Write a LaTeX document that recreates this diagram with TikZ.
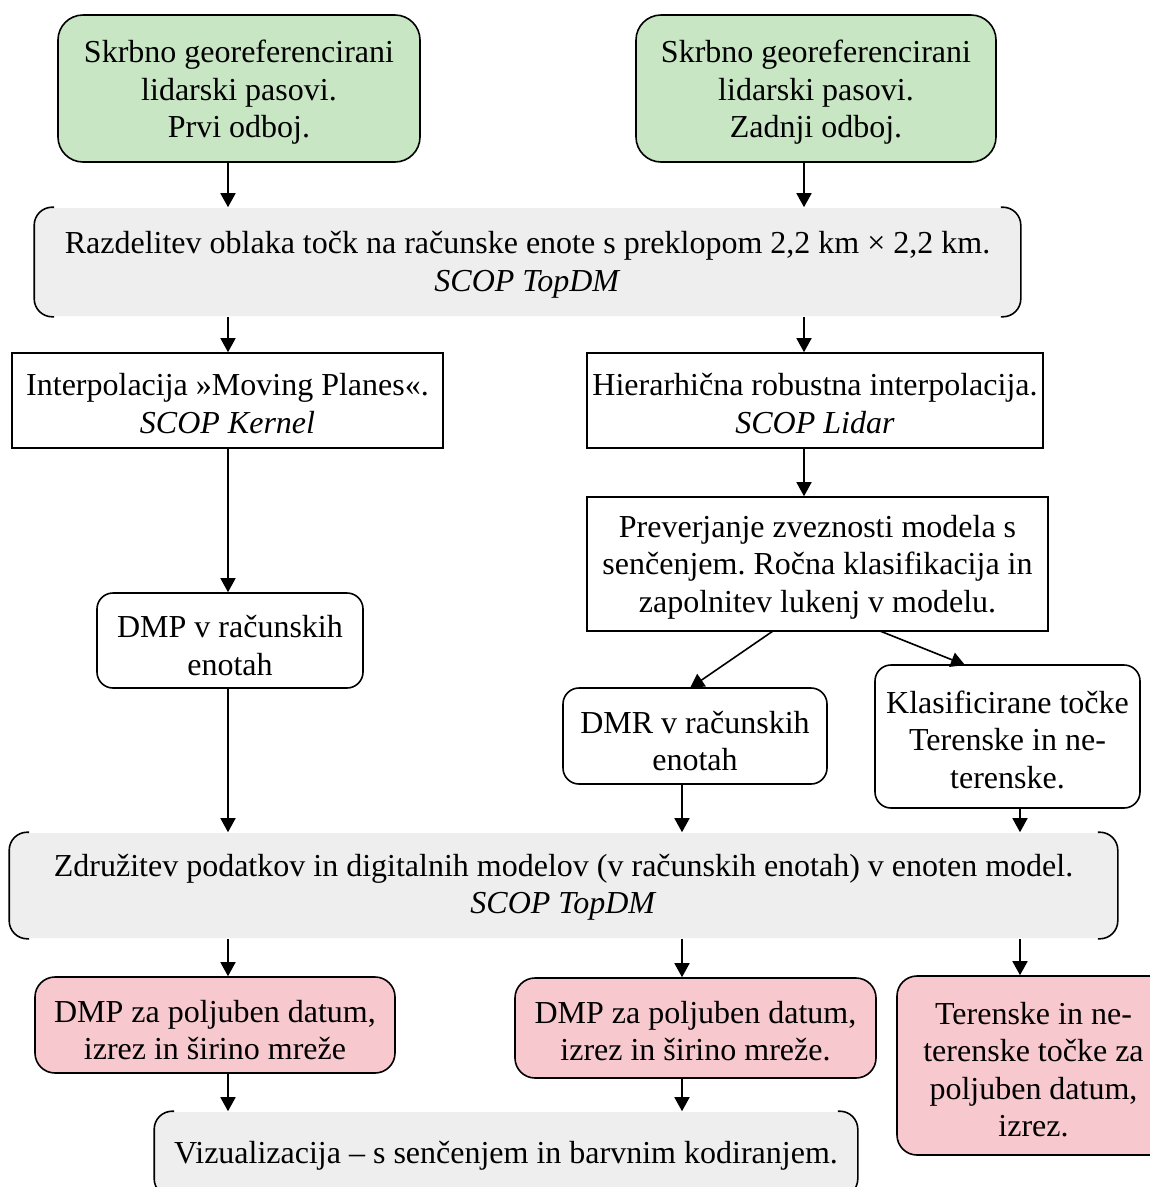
\documentclass[tikz,border=0pt]{standalone}
\usepackage{fontspec}
\setmainfont{Liberation Serif}
\usetikzlibrary{arrows.meta}
\definecolor{greenfill}{RGB}{200,230,196}
\definecolor{grayfill}{RGB}{238,238,238}
\definecolor{redfill}{RGB}{247,200,205}
\frenchspacing
\begin{document}
\begin{tikzpicture}[x=1pt,y=-1pt,
  every node/.style={font=\fontsize{32}{37.5}\selectfont, align=center, inner sep=0pt, line width=1.6pt},
  greenbox/.style={draw, fill=greenfill, rounded corners=25pt},
  plainbox/.style={draw, fill=white},
  roundbox/.style={draw, fill=white, rounded corners=16pt},
  redbox/.style={draw, fill=redfill, rounded corners=20pt},
  graybox/.style={fill=grayfill, rounded corners=18pt},
  bracket/.style={draw, line width=1.6pt, rounded corners=18pt},
  arr/.style={draw, line width=1.6pt, -{Triangle[length=14pt,width=15pt]}},
  txt/.style={}
]
\useasboundingbox (0,0) rectangle (1150,1187);
\clip (0,0) rectangle (1150,1187);
\fill[white] (0,0) rectangle (1150,1187);

% column coordinates
\coordinate (cA) at (228,0);
\coordinate (cB) at (804,0);
\coordinate (cC) at (682,0);
\coordinate (cD) at (1020,0);

% boxes
\node[greenbox, minimum width=362, minimum height=147] (gl) at (239,88.5) {};
\node[greenbox, minimum width=360, minimum height=147] (gr) at (816,88.5) {};
\node[graybox, minimum width=985, minimum height=108] (g1) at (527.5,262) {};
\node[plainbox, minimum width=431, minimum height=95] (ip) at (227.5,400.5) {};
\node[plainbox, minimum width=456, minimum height=95] (hr) at (815,400.5) {};
\node[plainbox, minimum width=461, minimum height=134] (pv) at (817.5,564) {};
\node[roundbox, minimum width=266, minimum height=95] (dmp) at (230,640.5) {};
\node[roundbox, minimum width=264, minimum height=96] (dmr) at (695,736) {};
\node[roundbox, minimum width=265, minimum height=143] (kl) at (1007.5,736.5) {};
\node[graybox, minimum width=1107, minimum height=105] (g2) at (563.5,885.5) {};
\node[redbox, minimum width=360, minimum height=96] (r1) at (215,1025) {};
\node[redbox, minimum width=361, minimum height=100] (r2) at (695.5,1028) {};
\node[redbox, minimum width=273, minimum height=179] (r3) at (1033.5,1065.5) {};
\node[graybox, minimum width=702, minimum height=84] (g3) at (506,1154) {};

% texts
\node[txt] (glt) at ([yshift=-4pt]gl.center) {Skrbno georeferencirani\\lidarski pasovi.\\Prvi odboj.};
\node[txt] (grt) at ([yshift=-4pt]gr.center) {Skrbno georeferencirani\\lidarski pasovi.\\Zadnji odboj.};
\node[txt] (g1t) at ([yshift=-3pt]g1.center) {Razdelitev oblaka točk na računske enote s preklopom 2,2 km × 2,2 km.\\\textit{SCOP TopDM}};
\node[txt] (ipt) at ([yshift=-3pt]ip.center) {Interpolacija »Moving Planes«.\\\textit{SCOP Kernel}};
\node[txt] (hrt) at ([yshift=-3pt]hr.center) {Hierarhična robustna interpolacija.\\\textit{SCOP Lidar}};
\node[txt] (pvt) at ([yshift=-3pt]pv.center) {Preverjanje zveznosti modela s\\senčenjem. Ročna klasifikacija in\\zapolnitev lukenj v modelu.};
\node[txt] (dmpt) at ([yshift=-5pt]dmp.center) {DMP v računskih\\enotah};
\node[txt] (dmrt) at ([yshift=-5pt]dmr.center) {DMR v računskih\\enotah};
\node[txt] (klt) at ([yshift=-3pt]kl.center) {Klasificirane točke\\Terenske in ne-\\terenske.};
\node[txt] (g2t) at ([yshift=-2pt]g2.center) {Združitev podatkov in digitalnih modelov (v računskih enotah) v enoten model.\\\textit{SCOP TopDM}};
\node[txt] (r1t) at ([yshift=-5pt]r1.center) {DMP za poljuben datum,\\izrez in širino mreže};
\node[txt] (r2t) at ([yshift=-3pt]r2.center) {DMP za poljuben datum,\\izrez in širino mreže.};
\node[txt] (r3t) at ([yshift=-4pt]r3.center) {Terenske in ne-\\terenske točke za\\poljuben datum,\\izrez.};
\node[txt] (g3t) at ([yshift=-2pt]g3.center) {Vizualizacija – s senčenjem in barvnim kodiranjem.};

% brackets on gray boxes
\foreach \n in {g1,g2,g3}{
  \draw[bracket] ([xshift=20pt]\n.north west) -- (\n.north west) -- (\n.south west) -- ([xshift=20pt]\n.south west);
  \draw[bracket] ([xshift=-20pt]\n.north east) -- (\n.north east) -- (\n.south east) -- ([xshift=-20pt]\n.south east);
}

% connectors
\draw[arr] (gl.south -| cA) -- (g1.north -| cA);
\draw[arr] (gr.south -| cB) -- (g1.north -| cB);
\draw[arr] (g1.south -| cA) -- (ip.north -| cA);
\draw[arr] (g1.south -| cB) -- (hr.north -| cB);
\draw[arr] (ip.south -| cA) -- (dmp.north -| cA);
\draw[arr] (hr.south -| cB) -- (pv.north -| cB);
\coordinate (pvL) at (773,631);
\coordinate (pvR) at (880,631);
\coordinate (dmrT) at (690,688);
\coordinate (klT) at (965,665);
\draw[arr] (pvL) -- (dmrT);
\draw[arr] (pvR) -- (klT);
\draw[arr] (dmp.south -| cA) -- (g2.north -| cA);
\draw[arr] (dmr.south -| cC) -- (g2.north -| cC);
\draw[arr] (kl.south -| cD) -- (g2.north -| cD);
\draw[arr] (g2.south -| cA) -- (r1.north -| cA);
\draw[arr] (g2.south -| cC) -- (r2.north -| cC);
\draw[arr] (g2.south -| cD) -- (r3.north -| cD);
\draw[arr] (r1.south -| cA) -- (g3.north -| cA);
\draw[arr] (r2.south -| cC) -- (g3.north -| cC);
\end{tikzpicture}
\end{document}
